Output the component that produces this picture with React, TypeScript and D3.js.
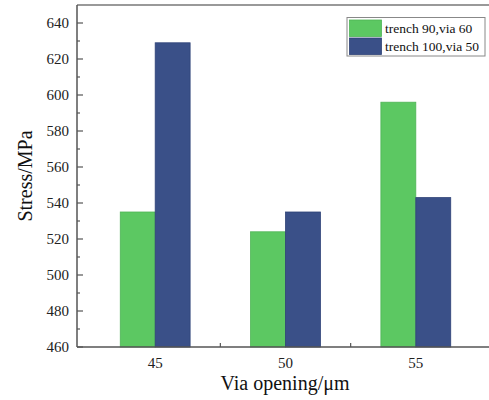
import React from 'react';
import * as d3 from 'd3';

// via opening (um) on the x axis
const openings = [45, 50, 55];
const seriesNames = ['trench 90,via 60', 'trench 100,via 50'];
const trench90 = [535, 524, 596];
const trench100 = [629, 535, 543];
const yTicks = [460, 480, 500, 520, 540, 560, 580, 600, 620, 640];

const W = 489;
const H = 400;
const colors = ['#5CC862', '#3A5088'];
const strokes = ['#4FB456', '#2E4277'];
const font = '"Liberation Serif", "Times New Roman", serif';

const App = () => {
  const x = d3.scaleLinear().domain([42, 58]).range([77, 494]);
  const y = d3.scaleLinear().domain([460, 650]).range([347, 5]);
  const barW = x(45 + 1.34) - x(45);
  const series = [trench90, trench100];
  const minorY = d3.range(470, 650, 20);
  const minorX = [47.5, 52.5];

  return (
    <svg width={W} height={H} style={{ position: 'fixed', left: 0, top: 0, background: '#fff' }}>
      {/* bars */}
      {series.map((vals, si) =>
        vals.map((v, i) => (
          <rect
            key={`${si}-${i}`}
            x={x(openings[i]) - barW + si * barW}
            y={y(v)}
            width={barW}
            height={y(460) - y(v)}
            fill={colors[si]}
            stroke={strokes[si]}
            strokeWidth={0.8}
          />
        ))
      )}

      {/* frame */}
      <line x1={x(42)} x2={x(58)} y1={y(650)} y2={y(650)} stroke="#777" strokeWidth={1.5} />
      <line x1={x(42)} x2={x(42)} y1={y(650)} y2={y(460)} stroke="#555" strokeWidth={1.5} />
      <line x1={x(42)} x2={x(58)} y1={y(460)} y2={y(460)} stroke="#555" strokeWidth={1.5} />

      {/* y ticks */}
      {yTicks.map(t => (
        <g key={t}>
          <line x1={x(42)} x2={x(42) + 6} y1={y(t)} y2={y(t)} stroke="#555" strokeWidth={1.2} />
          <text x={x(42) - 8} y={y(t)} dy="0.35em" textAnchor="end" fontFamily={font} fontSize={15} fill="#222">
            {t}
          </text>
        </g>
      ))}
      {minorY.map(t => (
        <line key={t} x1={x(42)} x2={x(42) + 3} y1={y(t)} y2={y(t)} stroke="#555" strokeWidth={1.2} />
      ))}

      {/* x ticks */}
      {minorX.map(t => (
        <line key={t} x1={x(t)} x2={x(t)} y1={y(460)} y2={y(460) - 4} stroke="#555" strokeWidth={1.2} />
      ))}
      {openings.map(t => (
        <text key={t} x={x(t)} y={363} dy="0.35em" textAnchor="middle" fontFamily={font} fontSize={15} fill="#222">
          {t}
        </text>
      ))}

      {/* axis titles */}
      <text x={285} y={390} textAnchor="middle" fontFamily={font} fontSize={20} fill="#111">
        Via opening/μm
      </text>
      <text
        transform={`translate(25,${y(555)}) rotate(-90)`}
        dy="0.35em"
        textAnchor="middle"
        fontFamily={font}
        fontSize={20}
        fill="#111"
      >
        Stress/MPa
      </text>

      {/* legend */}
      <rect x={347} y={17.5} width={138} height={38.5} fill="#fff" stroke="#888" strokeWidth={1} />
      {seriesNames.map((name, i) => (
        <g key={name}>
          <rect x={349.5} y={20 + i * 18} width={32} height={16.5} fill={colors[i]} stroke={strokes[i]} strokeWidth={0.8} />
          <text x={385} y={28.5 + i * 18} dy="0.35em" fontFamily={font} fontSize={13.5} fill="#111">
            {name}
          </text>
        </g>
      ))}
    </svg>
  );
};

export default App;
